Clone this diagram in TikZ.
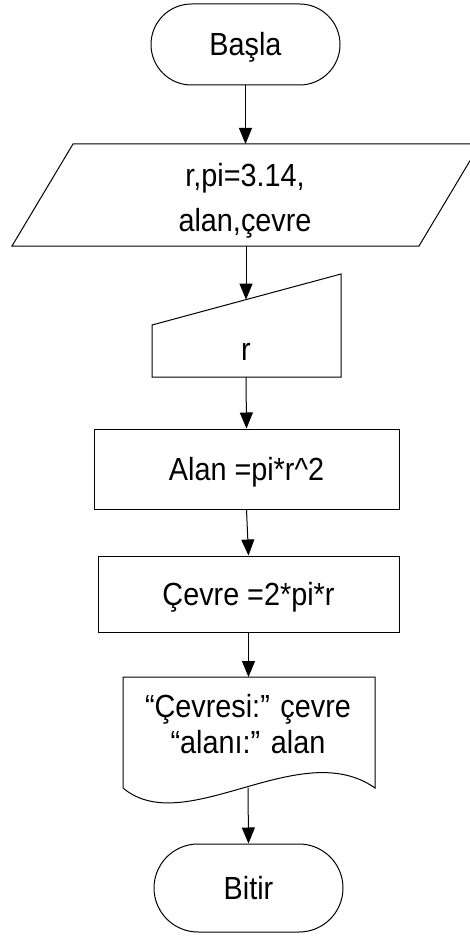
\documentclass[tikz,border=0pt]{standalone}
\usepackage{fontspec}
\newfontfamily\ff[FakeStretch=0.9]{Liberation Sans}
\usetikzlibrary{shapes.misc,arrows.meta}
\tikzset{
  txt/.style={font=\ff\fontsize{32pt}{36pt}\selectfont, inner sep=0pt},
  box/.style={txt, draw, line width=1pt, text height=23pt, text depth=1pt},
  term/.style={box, rounded rectangle},
  proc/.style={box, rectangle},
  shp/.style={draw, line width=1pt},
  arr/.style={-{Triangle[length=16pt,width=13pt]}, line width=1pt}
}
\begin{document}
\begin{tikzpicture}[x=1pt,y=-1pt]
\useasboundingbox (0,0) rectangle (470,936);
% start
\node[term, minimum width=189pt, minimum height=81pt] (start) at (245.5,44.5) {Başla};
% parallelogram (input/output)
\draw[shp] (12,246) -- (73,144) -- (480,144) -- (419,246) -- cycle;
\coordinate (iotop) at (245.5,144);
\coordinate (iobot) at (246,246);
\node[txt, align=center, font=\ff\fontsize{32pt}{45pt}\selectfont] (iotext) at (245,201) {r,pi=3.14,\\alan,çevre};
% manual input
\draw[shp] (152,325) -- (341,274) -- (341,377) -- (152,377) -- cycle;
\coordinate (mitop) at (246,299.6);
\coordinate (mibot) at (246,377);
\node[txt, anchor=base] (mitext) at (246,360) {r};
% processes
\node[proc, minimum width=305pt, minimum height=80pt] (p1) at (246.5,469) {Alan =pi*r\^{}2};
\node[proc, minimum width=301pt, minimum height=76pt] (p2) at (248.5,594) {Çevre =2*pi*r};
% document
\draw[shp] (123,677) -- (375,677) -- (375,788) .. controls (300,735) and (185,840) .. (123,788) -- cycle;
\coordinate (doctop) at (248.5,677);
\coordinate (docbot) at (248,787.5);
\node[txt, align=center] (doctext) at (248,724.5) {“Çevresi:” çevre\\“alanı:” alan};
% end
\node[term, minimum width=189pt, minimum height=88pt] (end) at (248.5,888) {Bitir};
% connectors
\draw[arr] (start.south) -- (iotop);
\draw[arr] (iobot) -- (mitop);
\draw[arr] (mibot) -- (p1.north);
\draw[arr] (p1.south) -- (p2.north);
\draw[arr] (p2.south) -- (doctop);
\draw[arr] (docbot) -- (end.north);
\end{tikzpicture}
\end{document}
